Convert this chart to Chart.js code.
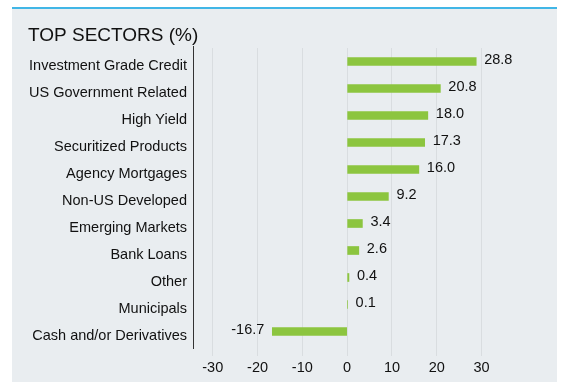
<!DOCTYPE html>
<html>
<head>
<meta charset="utf-8">
<script src="https://cdn.jsdelivr.net/npm/chart.js@4"></script>
<style>
html,body{margin:0;padding:0;background:#fff;}
#wrap{width:562px;height:387px;position:relative;}
</style>
</head>
<body>
<div id="wrap"><canvas id="c" width="562" height="387"></canvas></div>
<script>
const categories = ["Investment Grade Credit","US Government Related","High Yield","Securitized Products","Agency Mortgages","Non-US Developed","Emerging Markets","Bank Loans","Other","Municipals","Cash and/or Derivatives"];
const values = [28.8, 20.8, 18.0, 17.3, 16.0, 9.2, 3.4, 2.6, 0.4, 0.1, -16.7];
const tickValues = [-30, -20, -10, 0, 10, 20, 30];
const titleText = "TOP SECTORS (%)";

const FONT = "'Liberation Sans', Arial, sans-serif";
const TEXT = "#111111";

const panelPlugin = {
  id: 'panel',
  beforeDraw(chart) {
    const ctx = chart.ctx;
    ctx.save();
    ctx.fillStyle = '#ffffff';
    ctx.fillRect(0, 0, chart.width, chart.height);
    ctx.fillStyle = '#e9edf0';
    ctx.fillRect(12, 8, 545, 374);
    ctx.fillStyle = '#41b6e6';
    ctx.fillRect(12, 7, 545, 2);
    ctx.fillStyle = TEXT;
    ctx.font = "19px " + FONT;
    ctx.textBaseline = 'alphabetic';
    ctx.textAlign = 'left';
    ctx.fillText(titleText, 28, 40.5);
    ctx.restore();
  },
  afterDatasetsDraw(chart) {
    const ctx = chart.ctx;
    const area = chart.chartArea;
    ctx.save();
    ctx.strokeStyle = '#333';
    ctx.lineWidth = 1;
    ctx.beginPath();
    ctx.moveTo(Math.round(area.left) + 0.5, area.top - 2);
    ctx.lineTo(Math.round(area.left) + 0.5, area.bottom + 4);
    ctx.stroke();
    const meta = chart.getDatasetMeta(0);
    ctx.fillStyle = TEXT;
    ctx.font = "14.5px " + FONT;
    ctx.textBaseline = 'middle';
    meta.data.forEach((bar, i) => {
      const v = values[i];
      const txt = v.toFixed(1);
      if (v >= 0) {
        ctx.textAlign = 'left';
        ctx.fillText(txt, bar.x + 8, bar.y - 1.5);
      } else {
        ctx.textAlign = 'right';
        ctx.fillText(txt, bar.x - 8, bar.y - 1.5);
      }
    });
    ctx.restore();
  }
};

new Chart(document.getElementById('c'), {
  type: 'bar',
  data: {
    labels: categories,
    datasets: [{
      data: values,
      backgroundColor: '#8cc53f',
      borderWidth: 0,
      barThickness: 8
    }]
  },
  options: {
    indexAxis: 'y',
    responsive: false,
    animation: false,
    devicePixelRatio: 1,
    layout: { padding: { left: 0, right: 58, top: 48, bottom: 0 } },
    plugins: { legend: { display: false }, tooltip: { enabled: false }, title: { display: false } },
    scales: {
      x: {
        min: -34.4,
        max: 35,
        afterBuildTicks(scale) {
          scale.ticks = tickValues.map(v => ({ value: v }));
        },
        afterFit(scale) { scale.height = 42; },
        grid: { color: '#d9dde0', lineWidth: 1, tickLength: 11, drawTicks: true },
        border: { display: false },
        ticks: { color: TEXT, font: { family: FONT, size: 14.5 }, padding: 3, maxRotation: 0 }
      },
      y: {
        afterFit(scale) { scale.width = 193; },
        grid: { display: false, drawTicks: false, tickLength: 0 },
        border: { display: false },
        ticks: { color: TEXT, font: { family: FONT, size: 14.5 }, padding: 6, labelOffset: 4, autoSkip: false }
      }
    }
  },
  plugins: [panelPlugin]
});
</script>
</body>
</html>
